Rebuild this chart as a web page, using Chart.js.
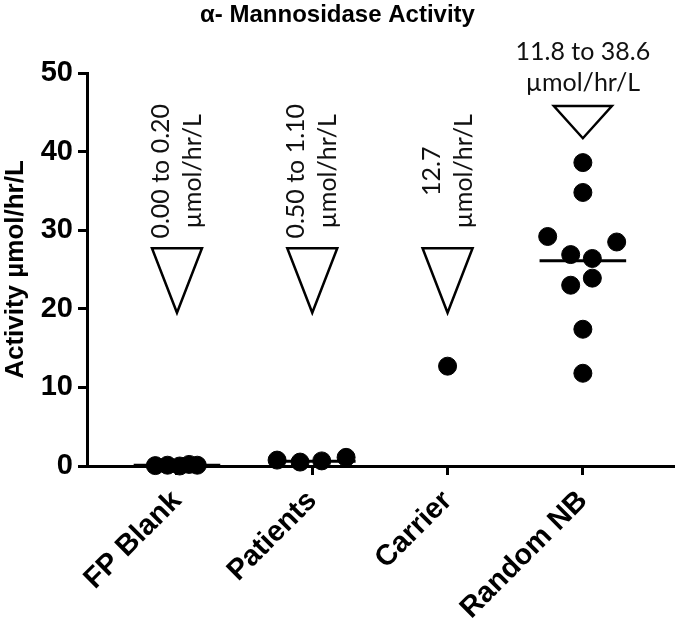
<!DOCTYPE html>
<html>
<head>
<meta charset="utf-8">
<script src="https://cdn.jsdelivr.net/npm/chart.js@4/dist/chart.umd.min.js"></script>
<style>
  body { margin: 0; background: #fff; }
</style>
</head>
<body>
<canvas id="dotChart" width="675" height="622"></canvas>
<script>
const categories = ['FP Blank', 'Patients', 'Carrier', 'Random NB'];

// activity values (µmol/hr/L) and horizontal scatter offsets per group
const fpBlankValues = [0.05, 0.1, 0.0, 0.2, 0.1];
const fpBlankJitter = [-0.16, -0.07, 0.02, 0.09, 0.15];
const patientValues = [0.75, 0.5, 0.65, 1.1];
const patientJitter = [-0.26, -0.09, 0.07, 0.25];
const carrierValues = [12.7];
const carrierJitter = [0];
const randomNbValues = [38.6, 34.8, 29.2, 28.5, 26.9, 26.4, 23.9, 23.0, 17.4, 11.8];
const randomNbJitter = [0, 0, -0.26, 0.25, -0.09, 0.07, 0.07, -0.09, 0, 0];
const medians = [0.1, 0.6, null, 26.1];

const yTicks = [0, 10, 20, 30, 40, 50];

// range notes shown above each group
const rangeText = [
    ['0.00 to 0.20', 'µmol/hr/L'],
    ['0.50 to 1.10', 'µmol/hr/L'],
    ['12.7', 'µmol/hr/L'],
    ['11.8 to 38.6', 'µmol/hr/L']
];
const rangeTextAt = [37.5, 37.5, 37.5, 50.7];
const markerTop = [27.7, 27.7, 27.7, 45.8];
const markerTip = [19.5, 19.5, 19.5, 41.7];

const groups = [
    [fpBlankValues, fpBlankJitter],
    [patientValues, patientJitter],
    [carrierValues, carrierJitter],
    [randomNbValues, randomNbJitter]
];

const datasets = [];
groups.forEach(function (g, i) {
    datasets.push({
        type: 'scatter',
        data: g[0].map((v, k) => ({ x: i + g[1][k], y: v })),
        backgroundColor: '#000',
        borderColor: '#000',
        pointRadius: 9,
        pointHoverRadius: 9,
        clip: false
    });
});
medians.forEach(function (m, i) {
    if (m === null) return;
    datasets.push({
        type: 'line',
        data: [{ x: i - 0.32, y: m }, { x: i + 0.32, y: m }],
        borderColor: '#000',
        borderWidth: 3,
        pointRadius: 0,
        clip: false
    });
});

const rangeNotes = {
    id: 'rangeNotes',
    afterDatasetsDraw(chart) {
        const ctx = chart.ctx;
        const xs = chart.scales.x;
        const ys = chart.scales.y;
        ctx.save();
        ctx.fillStyle = '#111';
        ctx.strokeStyle = '#000';
        ctx.lineWidth = 2.5;
        ctx.font = '25px Lato';
        ctx.textAlign = 'center';
        ctx.textBaseline = 'middle';
        rangeText.forEach(function (lines, i) {
            const cx = xs.getPixelForValue(i);
            const cy = ys.getPixelForValue(rangeTextAt[i]);
            if (i < 3) {
                ctx.save();
                ctx.translate(cx, cy);
                ctx.rotate(-Math.PI / 2);
                ctx.fillText(lines[0], 0, -16);
                ctx.fillText(lines[1], 0, 16);
                ctx.restore();
            } else {
                ctx.fillText(lines[0], cx, cy - 15.5);
                ctx.fillText(lines[1], cx, cy + 15.5);
            }
            const half = i === 3 ? 29 : 25;
            const top = ys.getPixelForValue(markerTop[i]);
            const tip = ys.getPixelForValue(markerTip[i]);
            ctx.beginPath();
            ctx.moveTo(cx - half, top);
            ctx.lineTo(cx + half, top);
            ctx.lineTo(cx, tip);
            ctx.closePath();
            ctx.stroke();
        });
        ctx.restore();
    }
};

const ctx = document.getElementById('dotChart').getContext('2d');
const myChart = new Chart(ctx, {
    type: 'scatter',
    data: { datasets: datasets },
    options: {
        responsive: false,
        animation: false,
        layout: { padding: 0, autoPadding: false },
        plugins: {
            legend: { display: false },
            tooltip: { enabled: false },
            title: {
                display: true,
                text: 'α- Mannosidase Activity',
                color: '#000',
                font: { family: 'Liberation Sans', size: 24, weight: 'bold' },
                padding: { top: 1, bottom: 43.2 }
            }
        },
        scales: {
            x: {
                type: 'linear',
                min: -0.665,
                max: 3.681,
                afterFit: s => { s.height = 156; s.paddingLeft = 0; s.paddingRight = 0; },
                afterBuildTicks: s => { s.ticks = categories.map((c, i) => ({ value: i })); },
                border: { display: true, color: '#000', width: 3 },
                grid: { drawOnChartArea: false, drawTicks: true, tickLength: 9, tickWidth: 3, color: '#000' },
                ticks: {
                    autoSkip: false,
                    minRotation: 45,
                    maxRotation: 45,
                    padding: 9,
                    color: '#000',
                    font: { family: 'Liberation Sans', size: 29, weight: 'bold' },
                    callback: v => categories[v]
                }
            },
            y: {
                min: 0,
                max: 50,
                afterFit: s => { s.width = 87; },
                afterBuildTicks: s => { s.ticks = yTicks.map(v => ({ value: v })); },
                border: { display: true, color: '#000', width: 3 },
                grid: { drawOnChartArea: false, drawTicks: true, tickLength: 9, tickWidth: 3, color: '#000' },
                title: {
                    display: true,
                    text: 'Activity µmol/hr/L',
                    color: '#000',
                    font: { family: 'Liberation Sans', size: 26, weight: 'bold' },
                    padding: { top: 0, bottom: 0 }
                },
                ticks: {
                    padding: 5,
                    color: '#000',
                    font: { family: 'Liberation Sans', size: 29, weight: 'bold' }
                }
            }
        }
    },
    plugins: [rangeNotes]
});
</script>
</body>
</html>
